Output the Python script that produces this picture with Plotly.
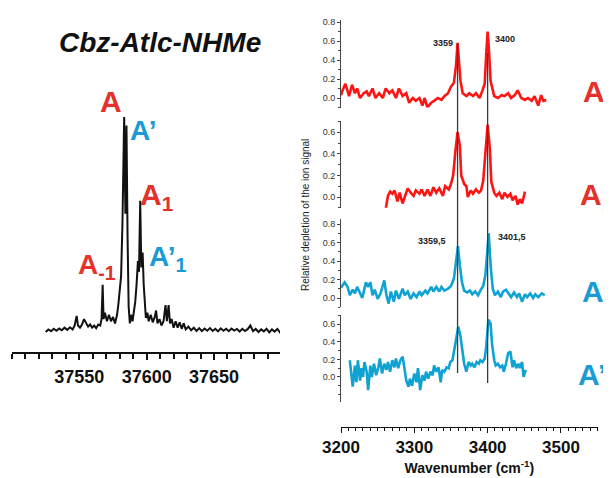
import plotly.graph_objects as go

# ---------------- data ----------------
# Left: electronic (UV) spectrum, wavenumber (cm-1) vs intensity (arb.)
L_x = [37525, 37527, 37529, 37531, 37533, 37535, 37537, 37539, 37541, 37543,
       37545, 37546.5, 37548, 37549, 37550.5, 37552, 37553.5, 37555, 37556.5, 37558,
       37559.5, 37561, 37562.5, 37564, 37565.5, 37566.5, 37567.3, 37568, 37569, 37570.5,
       37572, 37573.5, 37575, 37576.5, 37578, 37579, 37580, 37581, 37582, 37583.3,
       37584.2, 37585, 37585.8, 37586.6, 37587.5, 37588.5, 37589.5, 37590.5, 37591.5, 37592.5,
       37593.5, 37594.3, 37595.2, 37596, 37597, 37597.8, 37598.6, 37599.4, 37600.5, 37601.5,
       37603, 37604.5, 37606, 37607, 37608, 37609.5, 37611, 37612.5, 37614, 37615,
       37616.3, 37617.3, 37618.5, 37620, 37621.5, 37623, 37624.5, 37626, 37627.5, 37629,
       37631, 37633, 37635, 37637, 37639, 37641, 37643, 37645, 37647, 37649,
       37651, 37653, 37655, 37657, 37659, 37661, 37663, 37665, 37667, 37669,
       37671, 37673, 37675, 37677, 37679, 37681, 37683, 37685, 37687, 37689,
       37691, 37693, 37695, 37697, 37699.4]
L_y = [0.000, 0.012, 0.004, 0.015, 0.006, 0.016, 0.008, 0.020, 0.010, 0.022,
       0.012, 0.030, 0.075, 0.030, 0.020, 0.035, 0.060, 0.040, 0.025, 0.035,
       0.020, 0.030, 0.018, 0.035, 0.030, 0.060, 0.220, 0.060, 0.090, 0.050,
       0.080, 0.050, 0.070, 0.040, 0.080, 0.130, 0.200, 0.260, 0.500, 1.000,
       0.550, 0.960, 0.450, 0.120, 0.040, 0.080, 0.050, 0.100, 0.140, 0.220,
       0.330, 0.280, 0.610, 0.300, 0.370, 0.220, 0.160, 0.065, 0.090, 0.050,
       0.080, 0.045, 0.070, 0.100, 0.040, 0.060, 0.030, 0.050, 0.125, 0.050,
       0.125, 0.040, 0.060, 0.020, 0.050, 0.020, 0.045, 0.015, 0.040, 0.012,
       0.025, 0.008, 0.020, 0.005, 0.018, 0.004, 0.016, 0.006, 0.018, 0.005,
       0.015, 0.003, 0.017, 0.006, 0.015, 0.004, 0.016, 0.007, 0.014, 0.002,
       0.015, 0.005, 0.013, 0.030, 0.004, 0.014, 0.000, 0.012, 0.003, 0.015,
       -0.002, 0.012, 0.002, 0.014, -0.005]
L_ticks = [37550, 37600, 37650]

# Right: IR spectra (relative depletion of the ion signal)
A_x = [3200, 3202, 3206, 3211, 3215, 3219, 3222, 3226, 3231, 3235,
       3238, 3243, 3247, 3252, 3257, 3261, 3266, 3270, 3275, 3279,
       3284, 3289, 3293, 3298, 3302, 3307, 3311, 3314, 3318, 3323,
       3327, 3332, 3337, 3341, 3346, 3350, 3354, 3357, 3359, 3361,
       3363, 3366, 3371, 3375, 3380, 3384, 3389, 3393, 3396, 3398,
       3400, 3402, 3404, 3409, 3414, 3419, 3423, 3428, 3432, 3437,
       3441, 3446, 3451, 3455, 3460, 3464, 3469, 3473, 3476, 3480]
A_y = [0.03, 0.08, 0.15, 0.02, 0.14, 0.05, 0.10, 0.00, 0.05, 0.07,
       0.02, 0.10, 0.00, 0.05, 0.00, 0.10, 0.05, 0.08, 0.00, 0.10,
       0.02, 0.05, -0.05, 0.00, -0.03, 0.00, -0.08, 0.00, -0.10, -0.05,
       -0.03, 0.00, -0.02, 0.02, 0.05, 0.12, 0.16, 0.35, 0.58, 0.40,
       0.18, 0.05, 0.02, 0.05, 0.02, 0.05, 0.00, 0.08, 0.15, 0.45,
       0.70, 0.48, 0.18, 0.02, 0.00, 0.03, 0.02, 0.05, 0.00, 0.03,
       0.08, 0.00, -0.02, 0.00, -0.03, 0.02, -0.08, 0.03, -0.03, -0.02]

A1_x = [3261, 3264, 3267, 3270, 3273, 3277, 3280, 3284, 3287, 3291,
        3295, 3299, 3302, 3307, 3310, 3314, 3318, 3322, 3326, 3330,
        3334, 3339, 3342, 3347, 3350, 3353, 3356, 3359, 3362, 3364,
        3368, 3371, 3373, 3377, 3380, 3384, 3388, 3391, 3394, 3397,
        3400, 3403, 3405, 3409, 3412, 3416, 3420, 3423, 3427, 3431,
        3434, 3438, 3441, 3444, 3447, 3451]
A1_y = [-0.11, 0.01, 0.05, 0.03, 0.06, -0.04, 0.04, -0.06, 0.00, 0.08,
        0.04, 0.01, 0.06, 0.03, 0.07, 0.01, 0.07, 0.01, 0.09, 0.04,
        0.08, 0.01, 0.10, 0.07, 0.12, 0.20, 0.42, 0.60, 0.48, 0.20,
        0.12, 0.10, 0.00, 0.06, 0.03, 0.07, 0.04, 0.06, 0.15, 0.39,
        0.67, 0.45, 0.14, 0.04, 0.01, 0.04, -0.02, 0.04, 0.00, 0.03,
        -0.03, 0.01, -0.07, -0.02, -0.06, 0.05]

Ap_x = [3200, 3202, 3205, 3209, 3212, 3216, 3219, 3222, 3226, 3229,
        3234, 3237, 3240, 3243, 3246, 3250, 3254, 3259, 3262, 3265,
        3268, 3272, 3275, 3279, 3284, 3287, 3291, 3295, 3299, 3303,
        3307, 3310, 3315, 3318, 3323, 3326, 3330, 3334, 3337, 3341,
        3346, 3350, 3354, 3357, 3359.5, 3362, 3365, 3368, 3372, 3376,
        3379, 3383, 3387, 3390, 3394, 3397, 3399.5, 3401.5, 3404, 3407,
        3410, 3414, 3418, 3421, 3425, 3429, 3432, 3436, 3440, 3443,
        3447, 3451, 3454, 3458, 3462, 3465, 3469, 3474, 3478]
Ap_y = [0.11, 0.14, 0.17, 0.12, 0.03, 0.09, 0.05, 0.12, 0.06, 0.00,
        0.17, 0.12, 0.17, 0.03, 0.09, -0.01, 0.05, 0.19, 0.03, -0.06,
        0.07, -0.04, 0.08, -0.01, 0.10, 0.03, 0.07, -0.01, 0.05, 0.01,
        0.07, 0.03, 0.08, 0.05, 0.12, 0.07, 0.12, 0.07, 0.12, 0.08,
        0.10, 0.13, 0.21, 0.43, 0.56, 0.36, 0.17, 0.08, 0.06, 0.08,
        0.04, 0.07, 0.03, 0.08, 0.13, 0.25, 0.54, 0.70, 0.36, 0.10,
        0.03, 0.07, 0.01, 0.07, 0.09, 0.04, 0.01, 0.06, 0.01, 0.05,
        -0.04, 0.04, 0.01, 0.05, 0.00, 0.04, 0.01, 0.05, 0.03]

Ap1_x = [3212, 3214, 3216, 3219, 3221, 3223, 3226, 3228, 3230, 3232,
         3235, 3237, 3240, 3242, 3245, 3248, 3251, 3253, 3256, 3259,
         3262, 3264, 3267, 3270, 3273, 3275, 3278, 3281, 3284, 3286,
         3289, 3292, 3294, 3297, 3300, 3303, 3305, 3308, 3311, 3314,
         3316, 3319, 3322, 3325, 3327, 3330, 3333, 3336, 3338, 3341,
         3344, 3347, 3349, 3352, 3355, 3358, 3360, 3363, 3366, 3368,
         3371, 3374, 3377, 3379, 3382, 3385, 3388, 3390, 3393, 3396,
         3398, 3401, 3404, 3406, 3409, 3411, 3414, 3417, 3420, 3422,
         3425, 3428, 3431, 3434, 3436, 3439, 3442, 3444, 3447, 3449,
         3452]
Ap1_y = [0.19, 0.04, -0.11, 0.13, -0.06, 0.19, -0.04, 0.10, 0.00, 0.17,
         0.06, -0.15, 0.13, 0.00, 0.15, 0.02, 0.11, 0.21, 0.04, 0.15,
         0.08, 0.17, 0.06, 0.19, 0.11, 0.21, 0.10, 0.19, 0.23, 0.13,
         -0.04, -0.11, -0.02, -0.10, 0.04, -0.06, 0.10, -0.15, 0.02, -0.04,
         0.06, -0.02, 0.06, 0.02, 0.13, 0.06, 0.11, -0.06, 0.08, 0.06,
         0.11, 0.10, 0.17, 0.19, 0.34, 0.51, 0.57, 0.46, 0.27, 0.15,
         0.06, 0.17, 0.13, 0.15, 0.11, 0.17, 0.15, 0.19, 0.17, 0.21,
         0.34, 0.65, 0.61, 0.38, 0.19, 0.13, 0.15, 0.11, 0.13, 0.06,
         0.15, 0.27, 0.29, 0.11, 0.19, 0.10, 0.15, 0.10, 0.17, 0.00,
         0.08]

R_ticks = [3200, 3300, 3400, 3500]
PEAK_LINES = [3359, 3400]
PEAK_LABELS_A = ["3359", "3400"]
PEAK_LABELS_AP = ["3359,5", "3401,5"]

# ---------------- layout helpers ----------------
# the page body adds an 8 px offset; positions below are screen pixels
W, H = 611, 478
OFF = 8
def fx(p):
    return (p - OFF) / W
def fy(p):
    return 1 - (p - OFF) / H

RED = "#ff1414"
BLUE = "#0fa3d3"
LRED = "#e4312b"
LBLUE = "#1a9bd5"
SANS = "Liberation Sans, Arial, sans-serif"

fig = go.Figure()
fig.add_trace(go.Scatter(x=L_x, y=L_y, mode="lines", line=dict(color="#111", width=2),
                         xaxis="x", yaxis="y", hoverinfo="skip"))
panels = [(A_x, A_y, RED, "2"), (A1_x, A1_y, RED, "3"),
          (Ap_x, Ap_y, BLUE, "4"), (Ap1_x, Ap1_y, BLUE, "5")]
for xs, ys, col, k in panels:
    fig.add_trace(go.Scatter(x=xs, y=ys, mode="lines", line=dict(color=col, width=2.6),
                             xaxis="x" + k, yaxis="y" + k, hoverinfo="skip"))

xr = [3200, 3550]
xdom = [fx(341), fx(597.6)]
yaxis_common = dict(showline=True, linecolor="#444", linewidth=1, ticks="outside",
                    ticklen=3, tickcolor="#444", tickfont=dict(family=SANS, size=9, color="#333"),
                    tickformat=".1f", showgrid=False, zeroline=False, automargin=False,
                    minor=dict(dtick=0.1, ticks="outside", ticklen=2, tickcolor="#444"))

fig.update_layout(
    width=W, height=H, margin=dict(l=0, r=0, t=0, b=0, pad=0, autoexpand=False),
    paper_bgcolor="white", plot_bgcolor="rgba(0,0,0,0)", showlegend=False,
    xaxis=dict(domain=[fx(12), fx(280)], range=[37500, 37699], anchor="y",
               showline=True, linecolor="#111", linewidth=1.5, ticks="outside",
               ticklen=6, tickwidth=1.5, tickcolor="#111", tickvals=L_ticks, tickformat="d",
               ticklabelstandoff=2,
               tickfont=dict(family=SANS, size=18, color="#111", weight="bold"),
               minor=dict(dtick=10, tick0=37500, ticks="outside", ticklen=5, tickwidth=1.5, tickcolor="#111"),
               showgrid=False, zeroline=False, automargin=False),
    yaxis=dict(domain=[fy(352), fy(100)], range=[-0.093, 1.079], visible=False, automargin=False),
    xaxis2=dict(domain=xdom, range=xr, anchor="y2", visible=False, matches="x5", automargin=False),
    xaxis3=dict(domain=xdom, range=xr, anchor="y3", visible=False, matches="x5", automargin=False),
    xaxis4=dict(domain=xdom, range=xr, anchor="y4", visible=False, matches="x5", automargin=False),
    xaxis5=dict(domain=xdom, range=xr, anchor="free", position=fy(426.7),
                showline=True, linecolor="#111", linewidth=1.2, ticks="outside",
                ticklen=5, tickcolor="#111", tickvals=R_ticks, tickformat="d",
                tickfont=dict(family=SANS, size=17, color="#111", weight="bold"),
                minor=dict(dtick=10, tick0=3200, ticks="outside", ticklen=3, tickcolor="#111"),
                title=dict(text="Wavenumber (cm<sup>-1</sup>)", standoff=6,
                           font=dict(family=SANS, size=14, color="#111", weight="bold")),
                showgrid=False, zeroline=False, automargin=False),
    yaxis2=dict(domain=[fy(107.5), fy(20.1)], range=[-0.1, 0.82], anchor="x2",
                tickvals=[0, 0.2, 0.4, 0.6, 0.8], **yaxis_common),
    yaxis3=dict(domain=[fy(207.8), fy(121.4)], range=[-0.1, 0.7], anchor="x3",
                tickvals=[0, 0.2, 0.4, 0.6], **yaxis_common),
    yaxis4=dict(domain=[fy(307.25), fy(219.4)], range=[-0.1, 0.85], anchor="x4",
                tickvals=[0, 0.2, 0.4, 0.6, 0.8], **yaxis_common),
    yaxis5=dict(domain=[fy(401.6), fy(315.4)], range=[-0.28, 0.7], anchor="x5",
                tickvals=[0, 0.2, 0.4, 0.6], **yaxis_common),
)

# vertical guide lines through the two N-H peaks
for xv, ytop, ybot in zip(PEAK_LINES, [43, 53], [373, 383]):
    fig.add_shape(type="line", xref="x2", yref="paper", x0=xv, x1=xv,
                  y0=fy(ybot), y1=fy(ytop), line=dict(color="#3a3a3a", width=1.3), layer="above")

ann = []
def add(text, x, y, size, color, weight="bold", style="normal", angle=0):
    ann.append(dict(text=text, x=fx(x), y=fy(y), xref="paper", yref="paper",
                    showarrow=False, xanchor="center", yanchor="middle", textangle=angle,
                    font=dict(family=SANS, size=size, color=color, weight=weight, style=style)))

add("Cbz-Atlc-NHMe", 160, 42, 28, "#111", style="italic")
# left spectrum labels
add("A", 111, 101, 30, LRED)
add("A’", 143, 131, 28, LBLUE)
add("A<sub>1</sub>", 157, 196, 30, LRED)
add("A’<sub>1</sub>", 167, 258, 28, LBLUE)
add("A<sub>-1</sub>", 97, 266, 28, LRED)
# right panel labels
add("A", 594, 91, 30, LRED)
add("A<sub>1</sub>", 597, 196, 30, LRED)
add("A’", 596, 291, 30, LBLUE)
add("A’<sub>1</sub>", 598, 376, 30, LBLUE)
# axis title
add("Relative depletion of the ion signal", 305, 215, 10, "#222", weight="normal", angle=-90)
fig.update_layout(annotations=ann)

# peak value labels
for xv, lab, yv, side in zip(PEAK_LINES, PEAK_LABELS_A, [0.58, 0.62], ["right", "left"]):
    fig.add_annotation(text=lab, x=xv, y=yv, xref="x2", yref="y2", showarrow=False,
                       xanchor=side, xshift=-3 if side == "right" else 5,
                       font=dict(family=SANS, size=9, color="#222", weight="bold"))
for xv, lab, yv, side in zip(PEAK_LINES, PEAK_LABELS_AP, [0.62, 0.66], ["right", "left"]):
    fig.add_annotation(text=lab, x=xv, y=yv, xref="x4", yref="y4", showarrow=False,
                       xanchor=side, xshift=-10 if side == "right" else 8,
                       font=dict(family=SANS, size=9, color="#222", weight="bold"))

fig.write_html("out.html")
